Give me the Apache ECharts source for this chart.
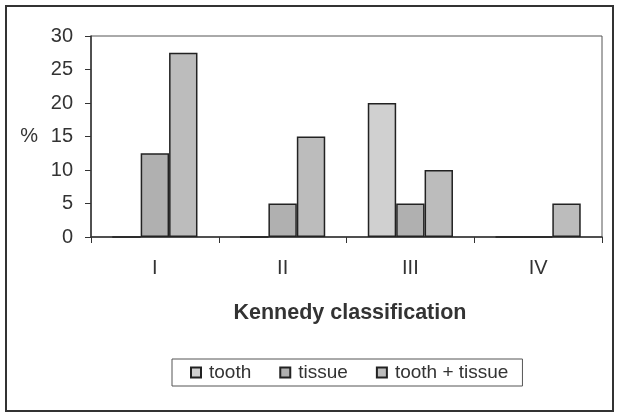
<!DOCTYPE html>
<html>
<head>
<meta charset="utf-8">
<script src="https://cdn.jsdelivr.net/npm/echarts@6/dist/echarts.min.js"></script>
<style>
html,body{margin:0;padding:0;background:#fff;}
#chart{width:619px;height:413px;}
</style>
</head>
<body>
<div id="chart"></div>
<script>
var categories = ['I', 'II', 'III', 'IV'];
var seriesNames = ['tooth', 'tissue', 'tooth + tissue'];
var toothValues = [0, 0, 20, 0];
var tissueValues = [12.5, 5, 5, 0];
var toothTissueValues = [27.5, 15, 10, 5];
var yTicks = [0, 5, 10, 15, 20, 25, 30];
var xTitle = 'Kennedy classification';
var yName = '%';

var FONT = '"Liberation Sans", Arial, sans-serif';
var colors = ['#d0d0d0', '#b0b0b0', '#bcbcbc'];
var values = [toothValues, tissueValues, toothTissueValues];

var chart = echarts.init(document.getElementById('chart'), null, {renderer: 'canvas'});
var option = {
  animation: false,
  backgroundColor: '#ffffff',
  textStyle: {fontFamily: FONT, color: '#222'},
  title: {
    text: xTitle,
    left: 345,
    top: 297,
    textAlign: 'center',
    textStyle: {fontFamily: FONT, fontSize: 21.5, fontWeight: 'bold', color: '#333'}
  },
  legend: {
    data: seriesNames,
    left: 172,
    top: 359,
    orient: 'horizontal',
    icon: 'rect',
    itemWidth: 10,
    itemHeight: 10,
    itemGap: 28,
    padding: [4, 14, 4, 18],
    borderColor: '#555',
    borderWidth: 1,
    backgroundColor: '#fff',
    textStyle: {fontFamily: FONT, fontSize: 19, color: '#333', padding: [0, 0, 0, 3]}
  },
  grid: {
    left: 91, right: 17, top: 36, bottom: 176,
    show: true,
    borderColor: '#555',
    borderWidth: 1
  },
  xAxis: {
    type: 'category',
    data: categories,
    axisLine: {show: true, lineStyle: {color: '#333', width: 1.5}},
    axisTick: {show: true, length: 6, lineStyle: {color: '#333', width: 1}},
    axisLabel: {fontFamily: FONT, fontSize: 20, color: '#333', margin: 21},
    splitLine: {show: false}
  },
  yAxis: {
    type: 'value',
    min: yTicks[0],
    max: yTicks[yTicks.length - 1],
    interval: yTicks[1] - yTicks[0],
    name: yName,
    nameLocation: 'middle',
    nameRotate: 0,
    nameGap: 53,
    nameTextStyle: {fontFamily: FONT, fontSize: 20, color: '#333'},
    axisLine: {show: true, lineStyle: {color: '#333', width: 1.5}},
    axisTick: {show: true, length: 6, lineStyle: {color: '#333', width: 1}},
    axisLabel: {fontFamily: FONT, fontSize: 20, color: '#333', margin: 18},
    splitLine: {show: false}
  },
  series: seriesNames.map(function (name, i) {
    return {
      name: name,
      type: 'bar',
      data: values[i],
      barGap: '0%',
      barCategoryGap: '33.3%',
      itemStyle: {color: colors[i], borderColor: '#222', borderWidth: 1.5}
    };
  }),
  graphic: [{
    type: 'rect',
    shape: {x: 6, y: 6, width: 607, height: 405},
    style: {fill: 'none', stroke: '#333', lineWidth: 2},
    silent: true,
    z: 100
  }]
};
chart.setOption(option);
</script>
</body>
</html>
